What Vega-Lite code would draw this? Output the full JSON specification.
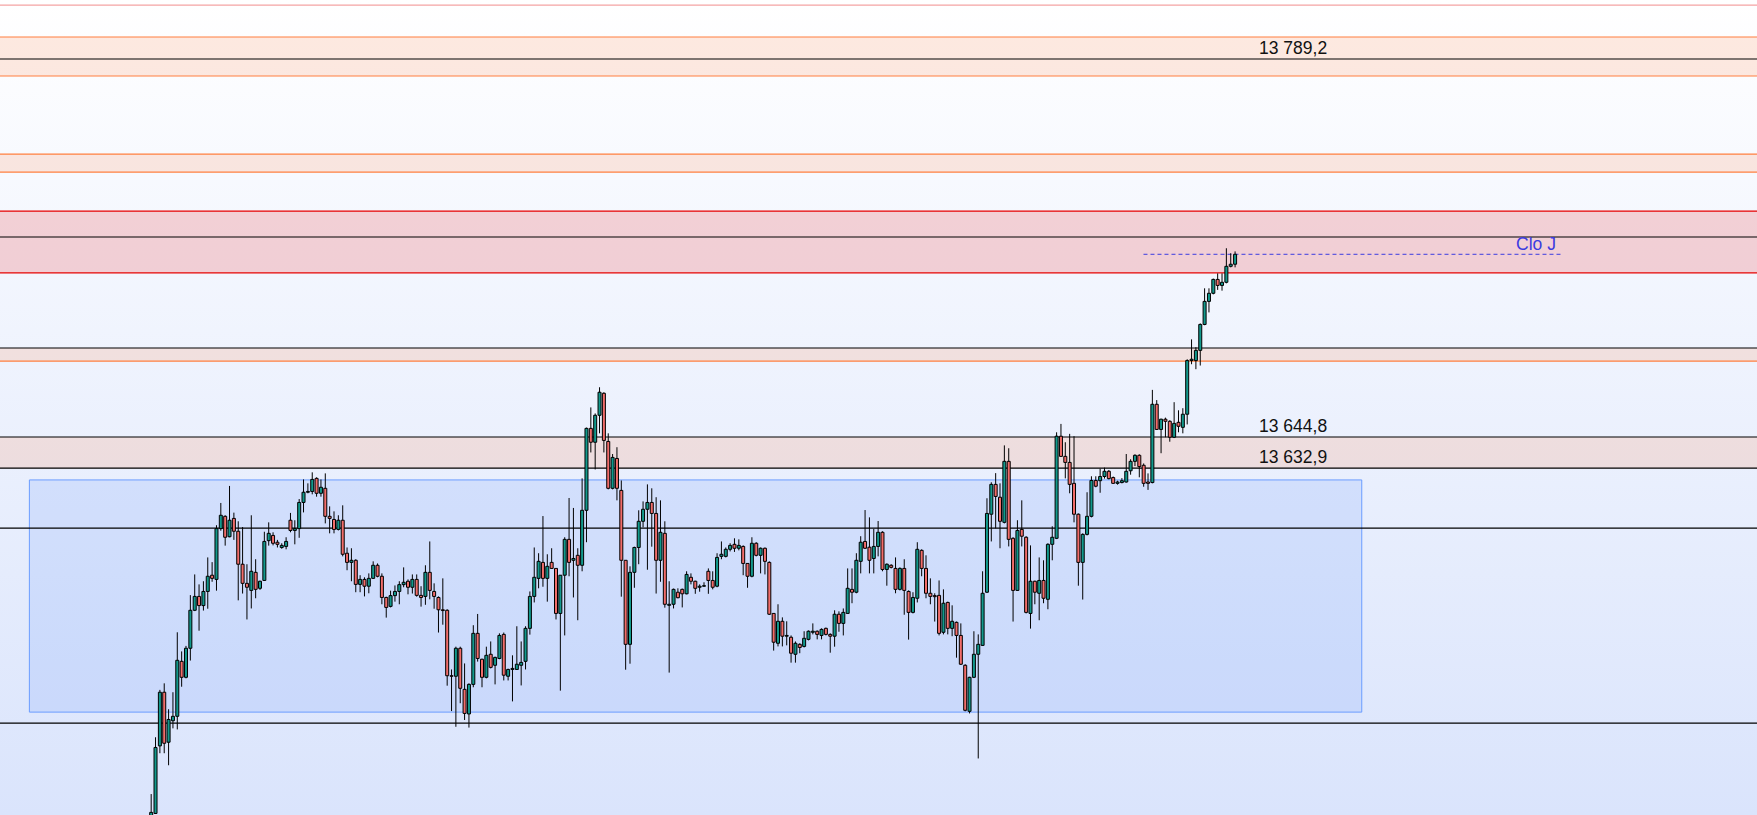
{
  "$schema": "https://vega.github.io/schema/vega-lite/v6.json",
  "width": 1757,
  "height": 815,
  "autosize": {"type": "none"},
  "padding": 0,
  "config": {"view": {"stroke": null}},
  "datasets": {
    "frame": [
      {"top":13811.74,"bottom":13500.4}
    ],
    "candles": [
      {"i":0,"o":13498.5,"h":13508.4,"l":13497.9,"c":13501.4},
      {"i":1,"o":13501.0,"h":13530.1,"l":13500.8,"c":13526.2},
      {"i":2,"o":13526.8,"h":13548.2,"l":13524.0,"c":13547.3},
      {"i":3,"o":13547.3,"h":13550.7,"l":13524.0,"c":13527.8},
      {"i":4,"o":13528.2,"h":13540.8,"l":13519.4,"c":13536.9},
      {"i":5,"o":13536.4,"h":13547.3,"l":13533.5,"c":13538.1},
      {"i":6,"o":13538.1,"h":13570.2,"l":13533.1,"c":13559.5},
      {"i":7,"o":13559.1,"h":13562.9,"l":13549.4,"c":13553.0},
      {"i":8,"o":13553.0,"h":13565.0,"l":13552.6,"c":13564.1},
      {"i":9,"o":13564.1,"h":13584.4,"l":13559.4,"c":13578.6},
      {"i":10,"o":13578.6,"h":13592.3,"l":13578.3,"c":13583.9},
      {"i":11,"o":13583.9,"h":13588.5,"l":13570.8,"c":13580.4},
      {"i":12,"o":13580.4,"h":13589.7,"l":13578.5,"c":13585.8},
      {"i":13,"o":13585.8,"h":13598.8,"l":13579.2,"c":13591.6},
      {"i":14,"o":13592.0,"h":13597.0,"l":13589.5,"c":13590.8},
      {"i":15,"o":13590.4,"h":13611.1,"l":13586.1,"c":13609.8},
      {"i":16,"o":13609.8,"h":13619.6,"l":13609.0,"c":13614.9},
      {"i":17,"o":13614.5,"h":13614.9,"l":13603.3,"c":13606.5},
      {"i":18,"o":13606.7,"h":13626.1,"l":13606.5,"c":13613.0},
      {"i":19,"o":13613.7,"h":13615.9,"l":13605.5,"c":13608.8},
      {"i":20,"o":13608.8,"h":13612.6,"l":13582.4,"c":13596.2},
      {"i":21,"o":13596.2,"h":13610.4,"l":13585.0,"c":13588.9},
      {"i":22,"o":13588.9,"h":13596.2,"l":13575.1,"c":13587.4},
      {"i":23,"o":13586.2,"h":13614.9,"l":13579.3,"c":13593.5},
      {"i":24,"o":13593.1,"h":13598.1,"l":13583.2,"c":13586.6},
      {"i":25,"o":13587.0,"h":13589.9,"l":13586.4,"c":13589.7},
      {"i":26,"o":13590.0,"h":13608.6,"l":13589.8,"c":13604.9},
      {"i":27,"o":13605.2,"h":13612.2,"l":13603.3,"c":13608.0},
      {"i":28,"o":13607.2,"h":13608.4,"l":13603.4,"c":13604.2},
      {"i":29,"o":13604.6,"h":13605.5,"l":13602.6,"c":13603.8},
      {"i":30,"o":13602.6,"h":13604.2,"l":13602.1,"c":13603.4},
      {"i":31,"o":13603.0,"h":13606.5,"l":13601.9,"c":13604.9},
      {"i":32,"o":13613.0,"h":13615.8,"l":13608.4,"c":13609.1},
      {"i":33,"o":13609.1,"h":13613.0,"l":13603.8,"c":13609.8},
      {"i":34,"o":13609.8,"h":13621.1,"l":13606.3,"c":13619.8},
      {"i":35,"o":13619.8,"h":13628.6,"l":13616.0,"c":13623.7},
      {"i":36,"o":13623.7,"h":13627.1,"l":13623.3,"c":13624.0},
      {"i":37,"o":13624.0,"h":13631.3,"l":13622.9,"c":13628.6},
      {"i":38,"o":13629.0,"h":13629.4,"l":13622.0,"c":13623.3},
      {"i":39,"o":13623.3,"h":13628.6,"l":13622.0,"c":13625.6},
      {"i":40,"o":13625.2,"h":13630.9,"l":13611.8,"c":13614.5},
      {"i":41,"o":13614.5,"h":13618.3,"l":13608.0,"c":13613.7},
      {"i":42,"o":13613.3,"h":13616.4,"l":13608.0,"c":13609.5},
      {"i":43,"o":13609.5,"h":13614.9,"l":13609.1,"c":13613.0},
      {"i":44,"o":13613.0,"h":13618.7,"l":13599.2,"c":13600.0},
      {"i":45,"o":13600.4,"h":13602.6,"l":13593.9,"c":13596.9},
      {"i":46,"o":13596.9,"h":13602.3,"l":13589.7,"c":13597.7},
      {"i":47,"o":13597.7,"h":13598.1,"l":13585.5,"c":13588.5},
      {"i":48,"o":13588.5,"h":13592.0,"l":13585.5,"c":13590.4},
      {"i":49,"o":13590.4,"h":13591.2,"l":13583.9,"c":13587.8},
      {"i":50,"o":13587.8,"h":13592.7,"l":13585.1,"c":13590.8},
      {"i":51,"o":13590.8,"h":13597.3,"l":13590.6,"c":13595.8},
      {"i":52,"o":13595.8,"h":13596.5,"l":13591.2,"c":13591.6},
      {"i":53,"o":13591.6,"h":13592.7,"l":13580.9,"c":13583.5},
      {"i":54,"o":13583.5,"h":13583.8,"l":13575.8,"c":13579.7},
      {"i":55,"o":13580.1,"h":13586.1,"l":13579.7,"c":13584.2},
      {"i":56,"o":13584.2,"h":13588.1,"l":13581.9,"c":13585.8},
      {"i":57,"o":13585.8,"h":13589.7,"l":13580.9,"c":13588.4},
      {"i":58,"o":13588.4,"h":13595.0,"l":13587.4,"c":13589.3},
      {"i":59,"o":13589.7,"h":13590.4,"l":13584.7,"c":13587.4},
      {"i":60,"o":13587.4,"h":13592.3,"l":13585.0,"c":13590.4},
      {"i":61,"o":13590.4,"h":13592.3,"l":13583.8,"c":13584.3},
      {"i":62,"o":13584.3,"h":13587.8,"l":13580.0,"c":13583.5},
      {"i":63,"o":13583.9,"h":13595.8,"l":13580.7,"c":13593.1},
      {"i":64,"o":13593.1,"h":13604.9,"l":13582.8,"c":13586.2},
      {"i":65,"o":13585.8,"h":13588.9,"l":13579.2,"c":13583.9},
      {"i":66,"o":13583.5,"h":13583.9,"l":13570.1,"c":13578.8},
      {"i":67,"o":13578.8,"h":13590.8,"l":13573.1,"c":13578.5},
      {"i":68,"o":13578.6,"h":13579.0,"l":13549.8,"c":13553.6},
      {"i":69,"o":13553.6,"h":13556.0,"l":13540.1,"c":13553.4},
      {"i":70,"o":13553.4,"h":13564.7,"l":13534.1,"c":13564.1},
      {"i":71,"o":13564.1,"h":13564.7,"l":13543.1,"c":13548.8},
      {"i":72,"o":13548.4,"h":13558.3,"l":13536.7,"c":13539.2},
      {"i":73,"o":13539.0,"h":13550.7,"l":13533.8,"c":13550.3},
      {"i":74,"o":13550.3,"h":13572.9,"l":13549.2,"c":13569.8},
      {"i":75,"o":13569.8,"h":13577.2,"l":13559.0,"c":13560.2},
      {"i":76,"o":13559.9,"h":13560.1,"l":13549.2,"c":13553.0},
      {"i":77,"o":13553.0,"h":13564.7,"l":13552.6,"c":13561.4},
      {"i":78,"o":13561.8,"h":13566.7,"l":13556.4,"c":13556.8},
      {"i":79,"o":13557.6,"h":13560.9,"l":13550.3,"c":13560.6},
      {"i":80,"o":13560.2,"h":13569.8,"l":13559.9,"c":13569.0},
      {"i":81,"o":13569.4,"h":13570.1,"l":13551.8,"c":13553.8},
      {"i":82,"o":13553.4,"h":13556.3,"l":13551.8,"c":13556.0},
      {"i":83,"o":13556.0,"h":13561.4,"l":13543.8,"c":13556.4},
      {"i":84,"o":13556.0,"h":13572.5,"l":13555.8,"c":13558.0},
      {"i":85,"o":13557.6,"h":13566.7,"l":13549.9,"c":13558.7},
      {"i":86,"o":13559.1,"h":13572.5,"l":13556.0,"c":13571.7},
      {"i":87,"o":13571.7,"h":13585.8,"l":13569.3,"c":13583.9},
      {"i":88,"o":13583.9,"h":13602.6,"l":13581.6,"c":13591.2},
      {"i":89,"o":13590.8,"h":13600.4,"l":13587.0,"c":13597.3},
      {"i":90,"o":13596.9,"h":13614.6,"l":13587.6,"c":13590.8},
      {"i":91,"o":13590.8,"h":13600.0,"l":13581.9,"c":13595.4},
      {"i":92,"o":13596.9,"h":13602.3,"l":13594.4,"c":13594.6},
      {"i":93,"o":13594.6,"h":13594.6,"l":13575.1,"c":13577.4},
      {"i":94,"o":13577.4,"h":13592.0,"l":13547.9,"c":13592.0},
      {"i":95,"o":13592.0,"h":13606.5,"l":13569.0,"c":13605.7},
      {"i":96,"o":13605.7,"h":13621.5,"l":13591.6,"c":13596.9},
      {"i":97,"o":13597.7,"h":13617.7,"l":13583.5,"c":13598.4},
      {"i":98,"o":13599.6,"h":13602.3,"l":13574.8,"c":13595.8},
      {"i":99,"o":13595.8,"h":13629.0,"l":13593.5,"c":13616.8},
      {"i":100,"o":13616.8,"h":13648.4,"l":13604.6,"c":13648.1},
      {"i":101,"o":13648.1,"h":13656.1,"l":13638.9,"c":13642.8},
      {"i":102,"o":13642.8,"h":13653.8,"l":13632.4,"c":13653.1},
      {"i":103,"o":13653.1,"h":13663.8,"l":13646.2,"c":13661.9},
      {"i":104,"o":13661.5,"h":13661.9,"l":13638.9,"c":13643.5},
      {"i":105,"o":13643.1,"h":13646.2,"l":13624.8,"c":13625.2},
      {"i":106,"o":13625.2,"h":13638.3,"l":13624.8,"c":13637.0},
      {"i":107,"o":13636.6,"h":13640.9,"l":13620.6,"c":13625.2},
      {"i":108,"o":13624.4,"h":13628.2,"l":13583.8,"c":13597.7},
      {"i":109,"o":13597.7,"h":13597.7,"l":13555.9,"c":13565.6},
      {"i":110,"o":13565.6,"h":13595.4,"l":13558.2,"c":13593.1},
      {"i":111,"o":13593.1,"h":13602.9,"l":13587.2,"c":13602.6},
      {"i":112,"o":13602.6,"h":13616.8,"l":13596.2,"c":13612.6},
      {"i":113,"o":13612.6,"h":13620.2,"l":13610.3,"c":13617.2},
      {"i":114,"o":13617.2,"h":13626.7,"l":13594.1,"c":13619.8},
      {"i":115,"o":13619.8,"h":13625.2,"l":13602.9,"c":13615.6},
      {"i":116,"o":13615.6,"h":13621.8,"l":13585.0,"c":13597.7},
      {"i":117,"o":13597.7,"h":13620.6,"l":13589.5,"c":13608.4},
      {"i":118,"o":13608.0,"h":13612.6,"l":13579.6,"c":13580.9},
      {"i":119,"o":13580.5,"h":13589.7,"l":13554.8,"c":13580.9},
      {"i":120,"o":13580.9,"h":13586.9,"l":13579.3,"c":13586.6},
      {"i":121,"o":13585.5,"h":13587.0,"l":13583.2,"c":13583.4},
      {"i":122,"o":13586.6,"h":13586.9,"l":13579.7,"c":13584.9},
      {"i":123,"o":13584.9,"h":13593.5,"l":13584.7,"c":13592.3},
      {"i":124,"o":13591.2,"h":13592.7,"l":13588.5,"c":13589.7},
      {"i":125,"o":13589.7,"h":13589.9,"l":13584.9,"c":13587.0},
      {"i":126,"o":13587.4,"h":13588.5,"l":13585.7,"c":13587.8},
      {"i":127,"o":13587.8,"h":13589.3,"l":13587.6,"c":13588.0},
      {"i":128,"o":13593.5,"h":13594.6,"l":13584.9,"c":13590.0},
      {"i":129,"o":13590.0,"h":13593.5,"l":13586.6,"c":13587.4},
      {"i":130,"o":13587.8,"h":13600.4,"l":13587.4,"c":13598.8},
      {"i":131,"o":13599.2,"h":13604.9,"l":13598.1,"c":13600.0},
      {"i":132,"o":13599.2,"h":13602.6,"l":13598.8,"c":13601.9},
      {"i":133,"o":13601.9,"h":13604.2,"l":13601.1,"c":13603.4},
      {"i":134,"o":13603.8,"h":13606.1,"l":13600.9,"c":13602.3},
      {"i":135,"o":13602.3,"h":13605.7,"l":13601.5,"c":13603.4},
      {"i":136,"o":13603.0,"h":13603.4,"l":13592.0,"c":13596.5},
      {"i":137,"o":13596.5,"h":13596.5,"l":13587.2,"c":13591.6},
      {"i":138,"o":13591.6,"h":13606.5,"l":13591.2,"c":13604.2},
      {"i":139,"o":13604.2,"h":13604.6,"l":13599.2,"c":13599.6},
      {"i":140,"o":13599.6,"h":13602.6,"l":13592.7,"c":13602.3},
      {"i":141,"o":13602.3,"h":13602.6,"l":13592.3,"c":13597.3},
      {"i":142,"o":13596.9,"h":13597.3,"l":13576.8,"c":13577.1},
      {"i":143,"o":13577.4,"h":13577.4,"l":13563.2,"c":13566.4},
      {"i":144,"o":13566.0,"h":13580.9,"l":13564.8,"c":13574.4},
      {"i":145,"o":13574.4,"h":13575.9,"l":13564.8,"c":13568.7},
      {"i":146,"o":13568.7,"h":13574.4,"l":13565.2,"c":13569.0},
      {"i":147,"o":13568.3,"h":13569.0,"l":13558.6,"c":13562.2},
      {"i":148,"o":13561.8,"h":13566.7,"l":13558.6,"c":13566.0},
      {"i":149,"o":13565.6,"h":13566.0,"l":13562.2,"c":13564.4},
      {"i":150,"o":13564.8,"h":13570.6,"l":13564.4,"c":13567.9},
      {"i":151,"o":13567.5,"h":13570.9,"l":13567.1,"c":13570.6},
      {"i":152,"o":13570.2,"h":13573.6,"l":13569.4,"c":13570.6},
      {"i":153,"o":13570.6,"h":13570.9,"l":13567.5,"c":13569.4},
      {"i":154,"o":13569.0,"h":13571.7,"l":13567.5,"c":13571.3},
      {"i":155,"o":13571.7,"h":13572.0,"l":13569.0,"c":13569.4},
      {"i":156,"o":13569.4,"h":13569.8,"l":13562.4,"c":13568.7},
      {"i":157,"o":13568.7,"h":13578.6,"l":13564.7,"c":13577.1},
      {"i":158,"o":13577.1,"h":13578.2,"l":13570.4,"c":13573.6},
      {"i":159,"o":13573.6,"h":13579.3,"l":13569.0,"c":13577.8},
      {"i":160,"o":13577.4,"h":13594.6,"l":13577.4,"c":13587.0},
      {"i":161,"o":13586.6,"h":13594.6,"l":13581.3,"c":13585.5},
      {"i":162,"o":13585.5,"h":13600.4,"l":13585.1,"c":13597.7},
      {"i":163,"o":13597.3,"h":13606.9,"l":13592.7,"c":13604.6},
      {"i":164,"o":13604.9,"h":13616.9,"l":13602.0,"c":13602.3},
      {"i":165,"o":13602.7,"h":13614.1,"l":13592.7,"c":13597.7},
      {"i":166,"o":13598.4,"h":13609.7,"l":13592.7,"c":13603.0},
      {"i":167,"o":13603.0,"h":13612.7,"l":13599.2,"c":13608.4},
      {"i":168,"o":13608.4,"h":13608.8,"l":13593.5,"c":13594.2},
      {"i":169,"o":13594.2,"h":13596.5,"l":13588.0,"c":13596.2},
      {"i":170,"o":13595.8,"h":13596.2,"l":13594.6,"c":13595.0},
      {"i":171,"o":13594.6,"h":13598.8,"l":13585.1,"c":13586.6},
      {"i":172,"o":13586.6,"h":13595.0,"l":13586.2,"c":13594.6},
      {"i":173,"o":13594.6,"h":13598.1,"l":13576.9,"c":13586.2},
      {"i":174,"o":13585.8,"h":13586.2,"l":13567.4,"c":13577.8},
      {"i":175,"o":13577.8,"h":13585.5,"l":13577.4,"c":13583.5},
      {"i":176,"o":13583.2,"h":13604.6,"l":13581.6,"c":13601.9},
      {"i":177,"o":13601.5,"h":13601.9,"l":13591.6,"c":13594.6},
      {"i":178,"o":13594.6,"h":13599.6,"l":13583.2,"c":13585.1},
      {"i":179,"o":13585.1,"h":13590.8,"l":13580.9,"c":13583.9},
      {"i":180,"o":13584.2,"h":13585.1,"l":13574.3,"c":13583.8},
      {"i":181,"o":13584.3,"h":13590.0,"l":13569.0,"c":13569.8},
      {"i":182,"o":13570.2,"h":13586.6,"l":13569.4,"c":13581.3},
      {"i":183,"o":13581.6,"h":13581.9,"l":13569.4,"c":13571.7},
      {"i":184,"o":13571.7,"h":13580.5,"l":13568.7,"c":13574.4},
      {"i":185,"o":13574.0,"h":13574.3,"l":13560.5,"c":13569.0},
      {"i":186,"o":13569.0,"h":13573.6,"l":13557.7,"c":13558.0},
      {"i":187,"o":13557.6,"h":13558.0,"l":13540.0,"c":13540.4},
      {"i":188,"o":13540.0,"h":13553.2,"l":13539.2,"c":13553.0},
      {"i":189,"o":13553.0,"h":13570.6,"l":13552.7,"c":13561.8},
      {"i":190,"o":13561.8,"h":13569.4,"l":13522.0,"c":13565.6},
      {"i":191,"o":13565.2,"h":13593.5,"l":13565.0,"c":13585.1},
      {"i":192,"o":13585.5,"h":13621.4,"l":13585.2,"c":13615.6},
      {"i":193,"o":13615.3,"h":13627.5,"l":13604.9,"c":13626.7},
      {"i":194,"o":13626.7,"h":13631.0,"l":13609.9,"c":13622.1},
      {"i":195,"o":13621.8,"h":13627.1,"l":13602.3,"c":13612.6},
      {"i":196,"o":13612.2,"h":13641.6,"l":13611.8,"c":13635.5},
      {"i":197,"o":13635.5,"h":13640.5,"l":13603.0,"c":13605.7},
      {"i":198,"o":13606.1,"h":13606.5,"l":13574.3,"c":13586.2},
      {"i":199,"o":13586.2,"h":13613.0,"l":13586.0,"c":13609.1},
      {"i":200,"o":13609.5,"h":13620.6,"l":13603.0,"c":13606.9},
      {"i":201,"o":13606.5,"h":13606.9,"l":13577.4,"c":13577.8},
      {"i":202,"o":13577.4,"h":13603.4,"l":13571.6,"c":13589.7},
      {"i":203,"o":13589.7,"h":13589.9,"l":13580.9,"c":13585.5},
      {"i":204,"o":13585.1,"h":13598.8,"l":13574.8,"c":13590.0},
      {"i":205,"o":13590.0,"h":13597.7,"l":13581.3,"c":13583.2},
      {"i":206,"o":13582.8,"h":13604.2,"l":13579.0,"c":13603.8},
      {"i":207,"o":13603.8,"h":13610.7,"l":13597.7,"c":13606.5},
      {"i":208,"o":13606.1,"h":13646.6,"l":13605.8,"c":13645.1},
      {"i":209,"o":13645.1,"h":13649.8,"l":13637.2,"c":13637.4},
      {"i":210,"o":13637.4,"h":13642.8,"l":13629.0,"c":13635.1},
      {"i":211,"o":13635.1,"h":13646.0,"l":13623.3,"c":13626.7},
      {"i":212,"o":13627.1,"h":13645.1,"l":13612.2,"c":13615.3},
      {"i":213,"o":13615.3,"h":13615.6,"l":13588.0,"c":13596.9},
      {"i":214,"o":13596.9,"h":13608.0,"l":13582.7,"c":13607.6},
      {"i":215,"o":13607.6,"h":13623.7,"l":13607.2,"c":13614.5},
      {"i":216,"o":13614.5,"h":13629.8,"l":13614.1,"c":13628.2},
      {"i":217,"o":13628.2,"h":13629.8,"l":13625.6,"c":13626.0},
      {"i":218,"o":13628.1,"h":13632.7,"l":13623.5,"c":13629.7},
      {"i":219,"o":13629.7,"h":13633.1,"l":13628.9,"c":13631.7},
      {"i":220,"o":13631.7,"h":13632.2,"l":13628.6,"c":13628.9},
      {"i":221,"o":13629.3,"h":13629.7,"l":13626.9,"c":13627.1},
      {"i":222,"o":13627.1,"h":13628.1,"l":13626.6,"c":13627.6},
      {"i":223,"o":13627.4,"h":13629.1,"l":13627.1,"c":13628.1},
      {"i":224,"o":13627.6,"h":13638.3,"l":13627.4,"c":13631.7},
      {"i":225,"o":13631.9,"h":13636.3,"l":13630.4,"c":13635.5},
      {"i":226,"o":13635.5,"h":13638.2,"l":13633.7,"c":13637.8},
      {"i":227,"o":13637.8,"h":13638.2,"l":13629.4,"c":13633.5},
      {"i":228,"o":13634.0,"h":13634.7,"l":13625.8,"c":13627.1},
      {"i":229,"o":13627.6,"h":13630.9,"l":13624.6,"c":13627.1},
      {"i":230,"o":13627.4,"h":13662.8,"l":13627.1,"c":13657.3},
      {"i":231,"o":13657.3,"h":13658.9,"l":13647.5,"c":13647.7},
      {"i":232,"o":13647.7,"h":13651.8,"l":13638.6,"c":13651.6},
      {"i":233,"o":13651.6,"h":13652.2,"l":13644.7,"c":13650.8},
      {"i":234,"o":13650.8,"h":13651.2,"l":13643.0,"c":13644.7},
      {"i":235,"o":13644.7,"h":13658.1,"l":13644.4,"c":13650.0},
      {"i":236,"o":13650.4,"h":13655.0,"l":13646.6,"c":13648.9},
      {"i":237,"o":13648.5,"h":13655.8,"l":13646.2,"c":13653.5},
      {"i":238,"o":13653.5,"h":13674.5,"l":13649.6,"c":13674.0},
      {"i":239,"o":13674.0,"h":13682.1,"l":13672.6,"c":13674.5},
      {"i":240,"o":13674.0,"h":13679.1,"l":13670.7,"c":13677.9},
      {"i":241,"o":13677.9,"h":13688.2,"l":13672.1,"c":13687.8},
      {"i":242,"o":13687.8,"h":13701.6,"l":13687.5,"c":13696.6},
      {"i":243,"o":13696.6,"h":13701.6,"l":13692.4,"c":13699.7},
      {"i":244,"o":13699.7,"h":13705.3,"l":13699.3,"c":13705.0},
      {"i":245,"o":13705.0,"h":13707.3,"l":13701.0,"c":13702.7},
      {"i":246,"o":13702.7,"h":13707.3,"l":13700.7,"c":13703.9},
      {"i":247,"o":13703.9,"h":13716.9,"l":13703.5,"c":13710.0},
      {"i":248,"o":13710.0,"h":13715.0,"l":13709.6,"c":13710.8},
      {"i":249,"o":13710.8,"h":13715.7,"l":13709.6,"c":13714.6}
    ],
    "levels": [
      {"p":13809.8,"type":"faible"},
      {"p":13797.6,"type":"zone"},
      {"p":13789.2,"type":"niveau"},
      {"p":13782.7,"type":"zone"},
      {"p":13752.9,"type":"zone"},
      {"p":13746.0,"type":"zone"},
      {"p":13731.1,"type":"majeur"},
      {"p":13721.2,"type":"niveau"},
      {"p":13707.5,"type":"majeur"},
      {"p":13678.8,"type":"niveau"},
      {"p":13673.8,"type":"zone"},
      {"p":13644.8,"type":"niveau"},
      {"p":13632.9,"type":"niveau"},
      {"p":13610.0,"type":"niveau"},
      {"p":13535.5,"type":"niveau"}
    ],
    "bands": [
      {"lo":13782.7,"hi":13797.6,"type":"zone"},
      {"lo":13746.0,"hi":13752.9,"type":"zone"},
      {"lo":13707.5,"hi":13731.1,"type":"majeur"},
      {"lo":13673.8,"hi":13678.8,"type":"zone"},
      {"lo":13632.9,"hi":13644.8,"type":"zone"}
    ],
    "box": [
      {"i1":-27.98,"i2":278.1,"lo":13539.7,"hi":13628.4}
    ],
    "close": [
      {"i1":227.96,"i2":323.9,"p":13714.6,"label":"Clo J","li":322.7}
    ],
    "labels": [
      {"i":254.5,"p":13789.2,"t":"13 789,2"},
      {"i":254.5,"p":13644.8,"t":"13 644,8"},
      {"i":254.5,"p":13632.9,"t":"13 632,9"}
    ]
  },
  "layer": [
    {
      "data": {"name": "frame"},
      "mark": {
        "type": "rect",
        "clip": true,
        "fill": {
          "gradient": "linear",
          "x1": 0, "y1": 0, "x2": 0, "y2": 1,
          "stops": [
            {"offset": 0, "color": "#ffffff"},
            {"offset": 1, "color": "#dae4fc"}
          ]
        }
      },
      "encoding": {
        "y": {"field": "top", "type": "quantitative", "scale": {"domain": [13500.4, 13811.74], "nice": false, "zero": false}, "axis": null},
        "y2": {"field": "bottom"}
      }
    },
    {
      "data": {"name": "bands"},
      "mark": {"type": "rect", "fillOpacity": 0.16, "clip": true},
      "encoding": {
        "y": {"field": "hi", "type": "quantitative", "scale": {"domain": [13500.4, 13811.74], "nice": false, "zero": false}, "axis": null},
        "y2": {"field": "lo"},
        "color": {
          "field": "type", "type": "nominal", "legend": null,
          "scale": {"domain": ["niveau", "zone", "majeur", "faible"], "range": ["#000000", "#ff7f3f", "#e60000", "#f4a3a3"]}
        }
      }
    },
    {
      "data": {"name": "box"},
      "mark": {"type": "rect", "fill": "#5b8ff9", "fillOpacity": 0.16, "stroke": "#6a9cff", "strokeWidth": 1, "clip": true},
      "encoding": {
        "x": {"field": "i1", "type": "quantitative", "scale": {"domain": [-33.58, 367.75], "nice": false, "zero": false}, "axis": null},
        "x2": {"field": "i2"},
        "y": {"field": "hi", "type": "quantitative", "scale": {"domain": [13500.4, 13811.74], "nice": false, "zero": false}, "axis": null},
        "y2": {"field": "lo"}
      }
    },
    {
      "data": {"name": "levels"},
      "mark": {"type": "rule", "strokeWidth": 1.2, "clip": true},
      "encoding": {
        "y": {"field": "p", "type": "quantitative", "scale": {"domain": [13500.4, 13811.74], "nice": false, "zero": false}, "axis": null},
        "color": {
          "field": "type", "type": "nominal", "legend": null,
          "scale": {"domain": ["niveau", "zone", "majeur", "faible"], "range": ["#000000", "#ff7f3f", "#e60000", "#f4a3a3"]}
        }
      }
    },
    {
      "data": {"name": "close"},
      "mark": {"type": "rule", "color": "#3b3be0", "strokeWidth": 1, "strokeDash": [4, 3], "clip": true},
      "encoding": {
        "x": {"field": "i1", "type": "quantitative", "scale": {"domain": [-33.58, 367.75], "nice": false, "zero": false}, "axis": null},
        "x2": {"field": "i2"},
        "y": {"field": "p", "type": "quantitative", "scale": {"domain": [13500.4, 13811.74], "nice": false, "zero": false}, "axis": null}
      }
    },
    {
      "data": {"name": "close"},
      "mark": {"type": "text", "font": "Liberation Sans", "fontSize": 17.5, "color": "#3b3be0", "align": "right", "baseline": "alphabetic", "dy": -4.5},
      "encoding": {
        "x": {"field": "li", "type": "quantitative", "scale": {"domain": [-33.58, 367.75], "nice": false, "zero": false}, "axis": null},
        "y": {"field": "p", "type": "quantitative", "scale": {"domain": [13500.4, 13811.74], "nice": false, "zero": false}, "axis": null},
        "text": {"field": "label"}
      }
    },
    {
      "data": {"name": "candles"},
      "mark": {"type": "rule", "color": "#000000", "strokeWidth": 1, "clip": true},
      "encoding": {
        "x": {"field": "i", "type": "quantitative", "scale": {"domain": [-33.58, 367.75], "nice": false, "zero": false}, "axis": null},
        "y": {"field": "l", "type": "quantitative", "scale": {"domain": [13500.4, 13811.74], "nice": false, "zero": false}, "axis": null},
        "y2": {"field": "h"}
      }
    },
    {
      "data": {"name": "candles"},
      "mark": {"type": "bar", "width": 3, "stroke": "#000000", "strokeWidth": 1, "clip": true},
      "encoding": {
        "x": {"field": "i", "type": "quantitative", "scale": {"domain": [-33.58, 367.75], "nice": false, "zero": false}, "axis": null},
        "y": {"field": "o", "type": "quantitative", "scale": {"domain": [13500.4, 13811.74], "nice": false, "zero": false}, "axis": null},
        "y2": {"field": "c"},
        "color": {"condition": {"test": "datum.c >= datum.o", "value": "#12998c"}, "value": "#f26d6a"}
      }
    },
    {
      "data": {"name": "labels"},
      "mark": {"type": "text", "font": "Liberation Sans", "fontSize": 17.5, "color": "#111111", "align": "left", "baseline": "alphabetic", "dy": -5.5},
      "encoding": {
        "x": {"field": "i", "type": "quantitative", "scale": {"domain": [-33.58, 367.75], "nice": false, "zero": false}, "axis": null},
        "y": {"field": "p", "type": "quantitative", "scale": {"domain": [13500.4, 13811.74], "nice": false, "zero": false}, "axis": null},
        "text": {"field": "t"}
      }
    }
  ]
}
